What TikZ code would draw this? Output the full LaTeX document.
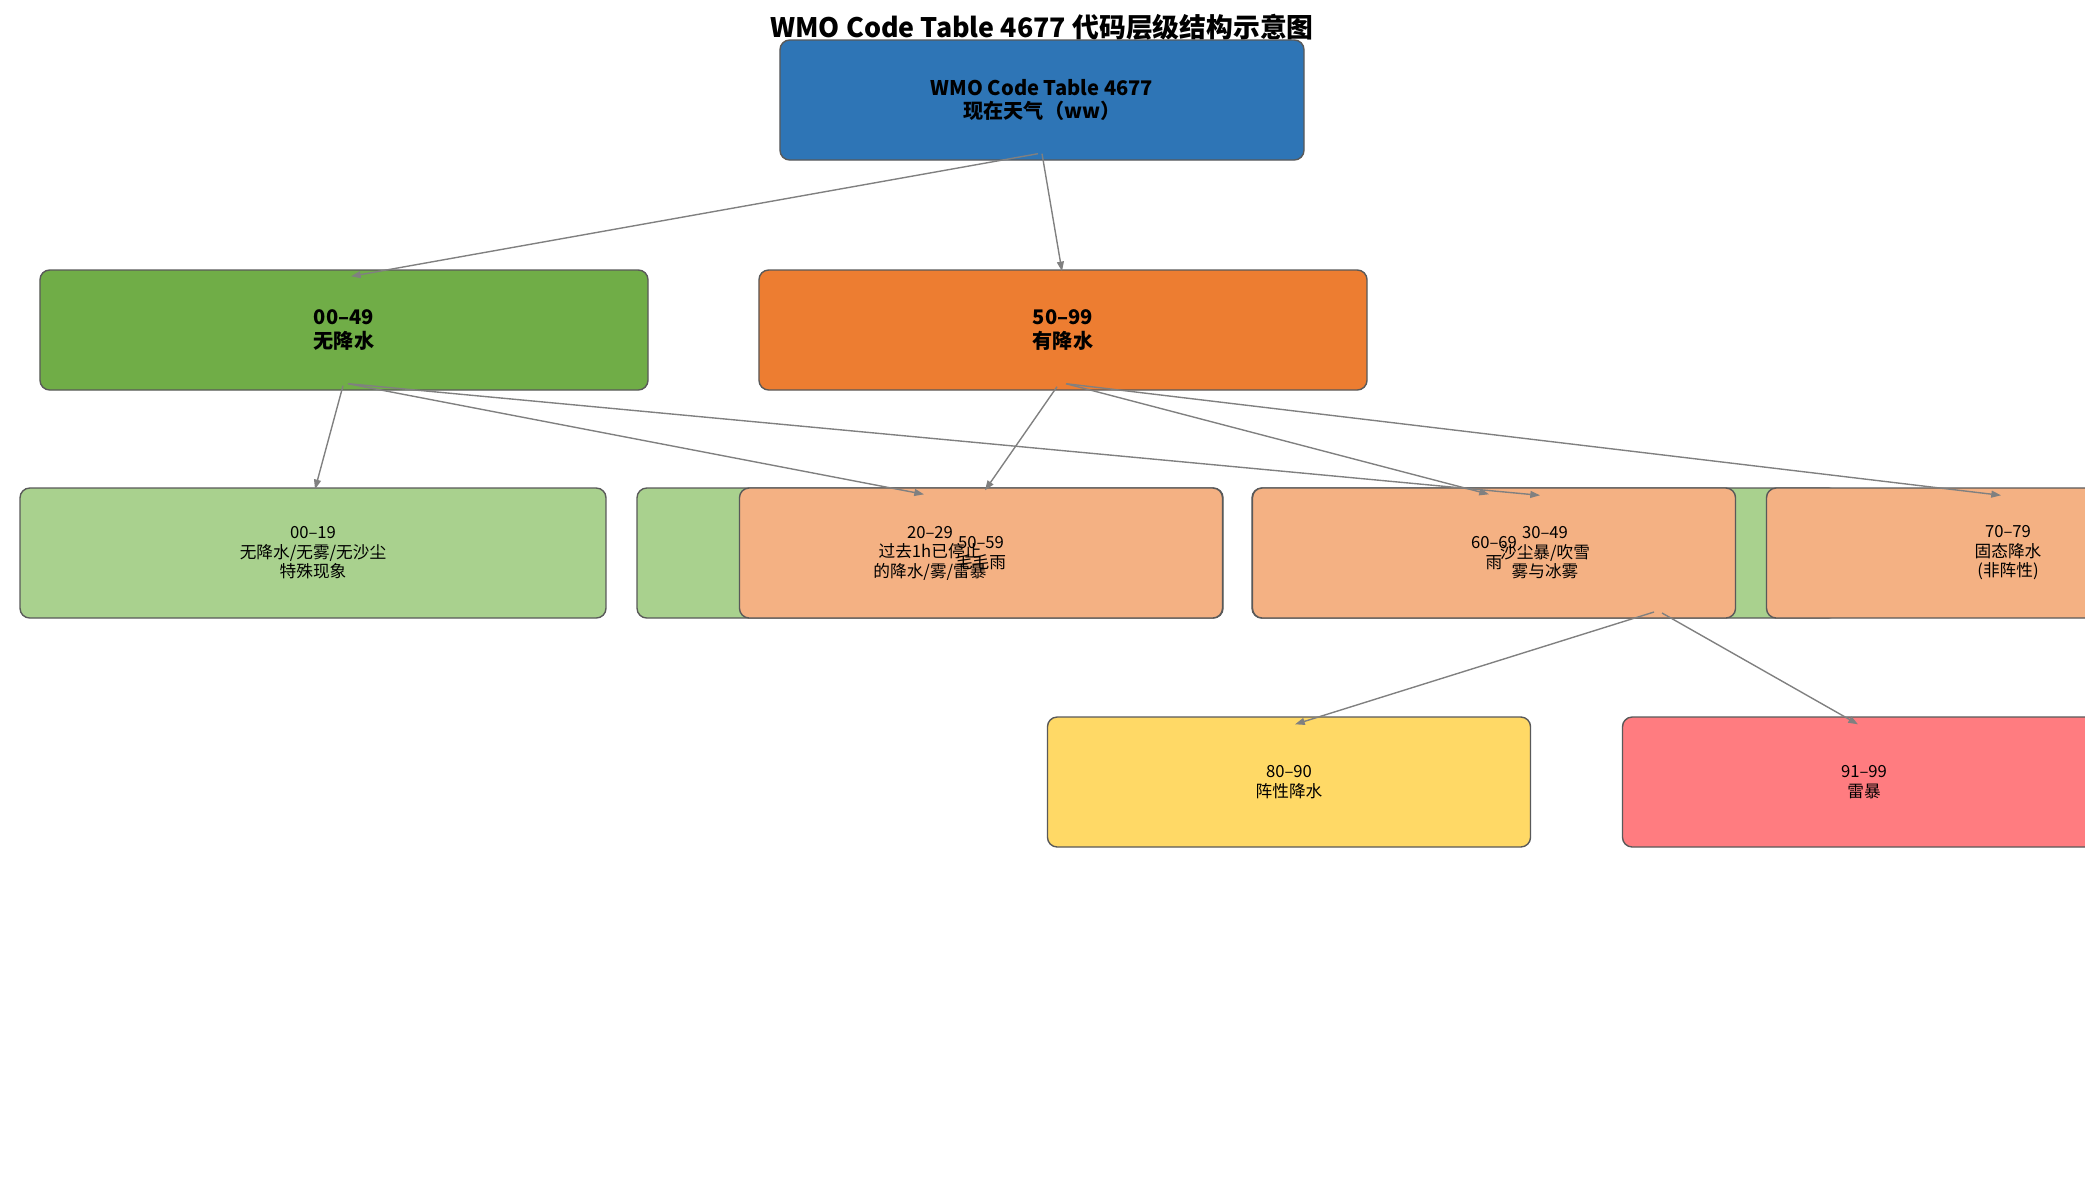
\documentclass[tikz,border=0pt]{standalone}
\usepackage{fontspec}
\setmainfont{Noto Sans CJK SC}
\usetikzlibrary{arrows.meta,calc}
\definecolor{cRoot}{HTML}{2E75B6}
\definecolor{cNo}{HTML}{70AD47}
\definecolor{cYes}{HTML}{ED7D31}
\definecolor{cNoL}{HTML}{A9D18E}
\definecolor{cYesL}{HTML}{F4B183}
\definecolor{cShower}{HTML}{FFD966}
\definecolor{cStorm}{HTML}{FF7C80}
\definecolor{cEdge}{HTML}{595959}
\definecolor{cArrow}{HTML}{808080}
\begin{document}
\begin{tikzpicture}[x=0.72pt,y=-0.72pt,
 box/.style={draw=cEdge, line width=1pt, rounded corners=7pt, inner sep=0pt, minimum height=93.6pt},
 topbox/.style={box, minimum width=377.3pt, minimum height=86.4pt},
 midbox/.style={box, minimum width=437.8pt, minimum height=86.4pt},
 widebox/.style={box, minimum width=421.9pt},
 narrowbox/.style={box, minimum width=347.8pt},
 bigtxt/.style={align=center, inner sep=0pt, font=\bfseries\fontsize{14.5}{17}\selectfont},
 smalltxt/.style={align=center, inner sep=0pt, font=\fontsize{12}{14}\selectfont},
 arr/.style={draw=cArrow, line width=1pt, -{Triangle[length=7pt,width=5pt]}},
]
\useasboundingbox (0,0) rectangle (2085,1177);
\clip (0,0) rectangle (2085,1177);
% title
\node[inner sep=0pt, font=\bfseries\fontsize{19.3}{22}\selectfont] (title) at (1042,27) {WMO Code Table 4677 代码层级结构示意图};
% boxes
\node[topbox, fill=cRoot] (root) at (1042,100) {};
\node[midbox, fill=cNo] (n0049) at (344,330) {};
\node[midbox, fill=cYes] (n5099) at (1063,330) {};
\node[widebox, fill=cNoL] (n0019) at (313,553) {};
\node[widebox, fill=cNoL] (n2029) at (930,553) {};
\node[widebox, fill=cNoL] (n3049) at (1545,553) {};
\node[narrowbox, fill=cYesL] (n5059) at (981,553) {};
\node[narrowbox, fill=cYesL] (n6069) at (1494,553) {};
\node[narrowbox, fill=cYesL] (n7079) at (2008,553) {};
\node[narrowbox, fill=cShower] (n8090) at (1289,782) {};
\node[narrowbox, fill=cStorm] (n9199) at (1864,782) {};
\coordinate (p8099) at (1658,618);
% connectors
\draw[arr] ($(root.south)+(-4,-7)$) -- ($(n0049.north)+(7,7)$);
\draw[arr] ($(root.south)+(0,-7)$) -- ($(n5099.north)+(-1,2)$);
\draw[arr] ($(n0049.south)+(-1,-5)$) -- ($(n0019.north)+(2,2)$);
\draw[arr] ($(n0049.south)+(4,-7)$) -- ($(n2029.north)+(-6,7)$);
\draw[arr] ($(n0049.south)+(4,-7)$) -- ($(n3049.north)+(-5,8)$);
\draw[arr] ($(n5099.south)+(-6,-4)$) -- ($(n5059.north)+(4,3)$);
\draw[arr] ($(n5099.south)+(3,-7)$) -- ($(n6069.north)+(-5,7)$);
\draw[arr] ($(n5099.south)+(3,-7)$) -- ($(n7079.north)+(-7,8)$);
\draw[arr] ($(p8099)+(-4,-6)$) -- ($(n8090.north)+(6,8)$);
\draw[arr] ($(p8099)+(4,-5)$) -- ($(n9199.north)+(-6,8)$);
% texts
\node[bigtxt] (troot) at (root.center) {WMO Code Table 4677\\现在天气（ww）};
\node[bigtxt] (t0049) at (n0049.center) {00–49\\无降水};
\node[bigtxt] (t5099) at (n5099.center) {50–99\\有降水};
\node[smalltxt] (t0019) at (n0019.center) {00–19\\无降水/无雾/无沙尘\\特殊现象};
\node[smalltxt] (t2029) at (n2029.center) {20–29\\过去1h已停止\\的降水/雾/雷暴};
\node[smalltxt] (t3049) at (n3049.center) {30–49\\沙尘暴/吹雪\\雾与冰雾};
\node[smalltxt] (t5059) at (n5059.center) {50–59\\毛毛雨};
\node[smalltxt] (t6069) at (n6069.center) {60–69\\雨};
\node[smalltxt] (t7079) at (n7079.center) {70–79\\固态降水\\(非阵性)};
\node[smalltxt] (t8090) at (n8090.center) {80–90\\阵性降水};
\node[smalltxt] (t9199) at (n9199.center) {91–99\\雷暴};
\end{tikzpicture}
\end{document}
